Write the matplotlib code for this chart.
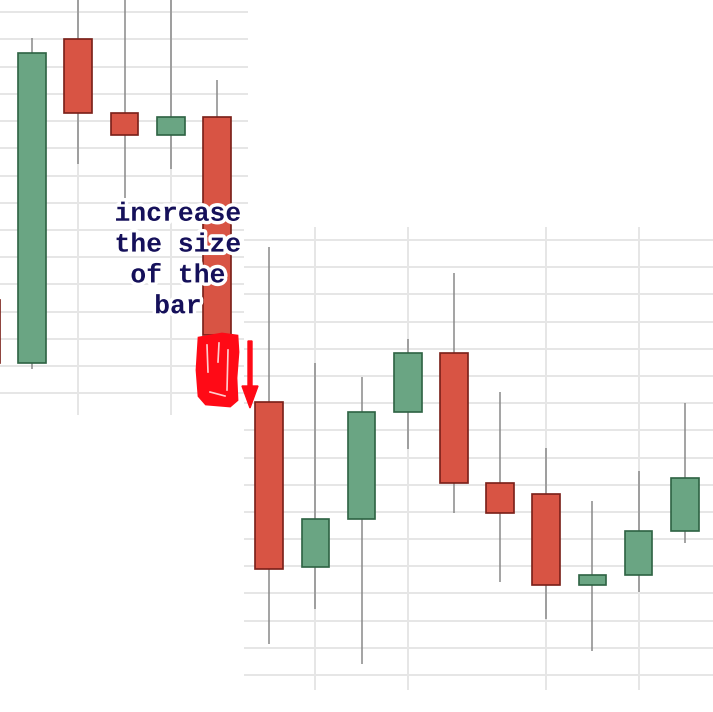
import matplotlib
matplotlib.use("Agg")
import matplotlib.pyplot as plt
import matplotlib.patheffects as pe
from matplotlib.patches import Polygon, FancyArrow
from matplotlib.lines import Line2D

# left/top screenshot: candles (index, open, high, low, close)
idx1 = [0, 1, 2, 3, 4, 5]
open1 = [13.43, 11.12, 23.02, 20.29, 19.48, 20.14]
high1 = [13.43, 23.05, 26.0, 26.0, 26.0, 21.51]
low1 = [11.12, 10.88, 18.42, 17.17, 18.23, 12.14]
close1 = [11.12, 22.50, 20.29, 19.48, 20.14, 12.14]
vgrid1 = [2, 4]

# right/bottom screenshot
idx2 = list(range(10))
open2 = [20.03, 13.98, 15.74, 19.66, 21.83, 17.05, 16.67, 13.30, 13.68, 15.30]
high2 = [25.75, 21.46, 20.95, 22.36, 24.80, 20.40, 18.36, 16.40, 17.50, 20.01]
low2 = [11.15, 12.44, 10.40, 18.31, 15.95, 13.43, 12.05, 10.89, 13.05, 14.84]
close2 = [13.89, 15.74, 19.66, 21.83, 17.05, 15.95, 13.30, 13.68, 15.30, 17.23]
vgrid2 = [1, 3, 6, 8]

note = "increase\nthe size\nof the\nbar"

W, H = 713, 712
RED, RED_EDGE = "#d85444", "#7a2019"
GREEN, GREEN_EDGE = "#6aa583", "#2f6444"
GRID = "#e6e6e6"


def px(x, y):
    return x / W, 1 - y / H


def candles(ax, idx, o, h, l, c, vgrid, hgrid):
    for g in hgrid:
        ax.axhline(g, color=GRID, lw=1.4, zorder=0)
    for g in vgrid:
        ax.axvline(g, color=GRID, lw=1.4, zorder=0)
    ax.vlines(idx, l, h, color="#8a8a8a", lw=1.1, zorder=1)
    for i, oo, cc in zip(idx, o, c):
        up = cc >= oo
        ax.bar(i, abs(cc - oo), bottom=min(oo, cc), width=0.6,
               color=GREEN if up else RED,
               edgecolor=GREEN_EDGE if up else RED_EDGE, lw=1.2, zorder=2)
    for s in ax.spines.values():
        s.set_visible(False)
    ax.set_xticks([])
    ax.set_yticks([])


fig = plt.figure(figsize=(7.13, 7.12), dpi=100)

ax1 = fig.add_axes([0, (H - 415) / H, 248 / W, 415 / H])
candles(ax1, idx1, open1, high1, low1, close1, vgrid1, range(10, 25))
ax1.set_xlim(0.309, 5.665)
ax1.set_ylim(9.20, 24.45)

ax2 = fig.add_axes([244 / W, (H - 690) / H, 469 / W, 463 / H])
ax2.set_facecolor("white")
candles(ax2, idx2, open2, high2, low2, close2, vgrid2, range(10, 27))
ax2.set_xlim(-0.548, 9.614)
ax2.set_ylim(9.45, 26.48)

fig.text(*px(178, 260), note, ha="center", va="center", fontsize=19,
         family="Liberation Mono", weight="bold", color="#15105a",
         linespacing=1.36,
         path_effects=[pe.withStroke(linewidth=5, foreground="white")])

# red scribble over the bottom of the bar
scrib = [(199, 338), (222, 334), (237, 336), (238, 352), (236, 378),
         (237, 400), (230, 406), (206, 404), (199, 396), (197, 370)]
fig.add_artist(Polygon([px(*p) for p in scrib], closed=True,
                       facecolor="#ff0a16", edgecolor="#ff0a16", lw=2,
                       transform=fig.transFigure))
for pts in [[(207, 345), (208, 372)], [(219, 343), (218, 362)],
            [(228, 350), (227, 390)], [(210, 392), (225, 396)]]:
    xs, ys = zip(*[px(*p) for p in pts])
    fig.add_artist(Line2D(xs, ys, color="white", lw=1.2, alpha=0.8,
                          transform=fig.transFigure))

x0, y0 = px(250, 341)
x1, y1 = px(250, 408)
fig.add_artist(FancyArrow(x0, y0, 0, y1 - y0, width=4 / H,
                          head_width=16 / W, head_length=22 / H,
                          length_includes_head=True, color="#ff0a16",
                          transform=fig.transFigure))

fig.savefig("out.png", dpi=100)
